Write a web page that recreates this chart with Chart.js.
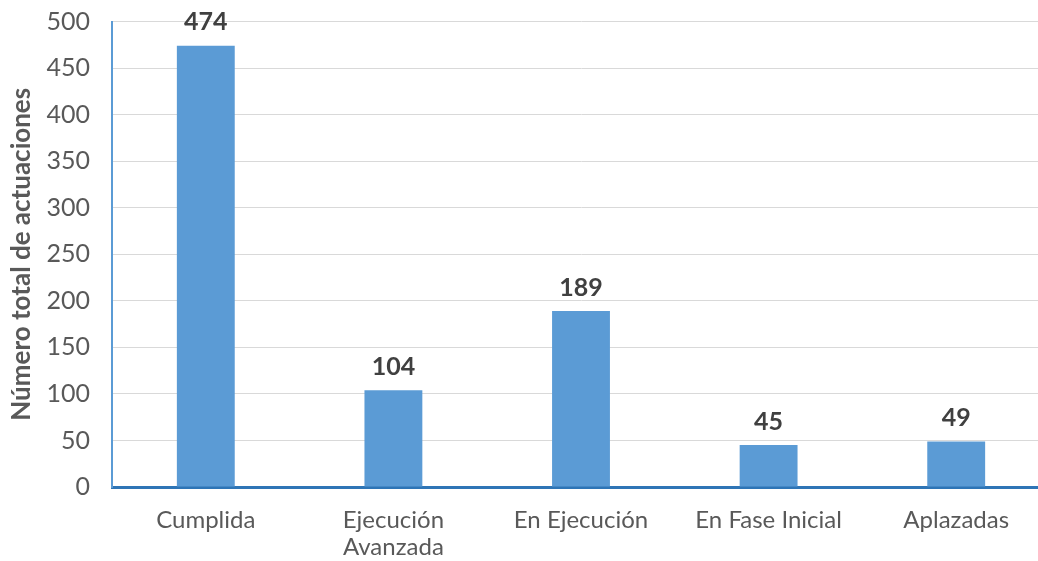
<!DOCTYPE html>
<html>
<head>
<meta charset="utf-8">
<script src="https://cdn.jsdelivr.net/npm/chart.js@4.4.1/dist/chart.umd.min.js"></script>
<style>
  html, body { margin: 0; padding: 0; background: #fff; overflow: hidden; }
  #wrap { width: 1054px; height: 561px; position: relative; }
</style>
</head>
<body>
<div id="wrap"><canvas id="chart"></canvas></div>
<script>
const categories = ['Cumplida', ['Ejecución', 'Avanzada'], 'En Ejecución', 'En Fase Inicial', 'Aplazadas'];
const actuaciones = [474, 104, 189, 45, 49];
const yTicks = [0, 50, 100, 150, 200, 250, 300, 350, 400, 450, 500];

// etiquetas de valor encima de cada barra
const valueLabels = {
  id: 'valueLabels',
  afterDatasetsDraw(chart) {
    const ctx = chart.ctx;
    ctx.save();
    ctx.font = 'bold 25px Lato';
    ctx.fillStyle = '#404040';
    ctx.textAlign = 'center';
    ctx.textBaseline = 'bottom';
    chart.getDatasetMeta(0).data.forEach((bar, i) => {
      ctx.fillText(actuaciones[i], bar.x, bar.y - 11);
    });
    ctx.restore();
  }
};

document.addEventListener('DOMContentLoaded', function() {
  const ctx = document.getElementById('chart');
  new Chart(ctx.getContext('2d'), {
    type: 'bar',
    data: {
      labels: categories,
      datasets: [{
        data: actuaciones,
        backgroundColor: '#5B9BD5',
        barPercentage: 0.617,
        categoryPercentage: 0.5,
      }],
    },
    options: {
      responsive: true,
      maintainAspectRatio: false,
      animation: false,
      layout: { padding: { top: 0, right: 4, left: 6, bottom: 0 } },
      plugins: {
        legend: { display: false },
        tooltip: { enabled: false },
      },
      scales: {
        x: {
          grid: { display: false },
          border: { color: '#2E75B6', width: 3 },
          ticks: { color: '#595959', font: { family: 'Lato', size: 24, lineHeight: 1.15 }, padding: 11, maxRotation: 0 },
          afterFit: (scale) => { scale.height = 74; },
        },
        y: {
          min: 0,
          max: 500,
          afterBuildTicks: (axis) => { axis.ticks = yTicks.map(v => ({ value: v })); },
          grid: { color: '#d9d9d9', lineWidth: 1, drawTicks: true, tickLength: 13, tickColor: 'rgba(0,0,0,0)' },
          border: { color: '#5B9BD5', width: 2 },
          ticks: { color: '#595959', font: { family: 'Lato', size: 25, lineHeight: 1 }, padding: 9 },
          afterFit: (scale) => { scale.width = 106; },
          title: {
            display: true,
            text: 'Número total de actuaciones',
            color: '#595959',
            font: { family: 'Lato', size: 26, weight: 'bold', lineHeight: 1.2 },
            padding: { top: 0, bottom: 10 },
          },
        },
      },
    },
    plugins: [valueLabels],
  });
});
</script>
</body>
</html>
